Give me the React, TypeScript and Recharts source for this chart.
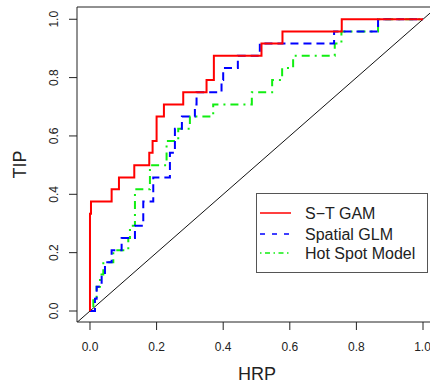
import {
  LineChart,
  Line,
  XAxis,
  YAxis,
  ReferenceLine,
  Legend,
  Label,
} from "recharts";

// axis ticks
const hrpTicks = [0, 0.2, 0.4, 0.6, 0.8, 1.0];
const tipTicks = [0, 0.2, 0.4, 0.6, 0.8, 1.0];

// S-T GAM (step curve, hrp -> tip)
const gamHrp = [0, 0, 0.003, 0.065, 0.087, 0.133, 0.178, 0.188, 0.2, 0.222, 0.28, 0.35, 0.372, 0.515, 0.578, 0.756, 1.0];
const gamTip = [0, 0.333, 0.375, 0.417, 0.458, 0.5, 0.542, 0.583, 0.667, 0.708, 0.75, 0.792, 0.875, 0.917, 0.958, 1.0, 1.0];

// Spatial GLM
const glmHrp = [0, 0.015, 0.02, 0.035, 0.045, 0.065, 0.095, 0.135, 0.16, 0.19, 0.24, 0.255, 0.276, 0.315, 0.32, 0.395, 0.4, 0.444, 0.51, 0.733, 0.865, 1.0];
const glmTip = [0, 0.042, 0.083, 0.125, 0.167, 0.208, 0.25, 0.292, 0.375, 0.458, 0.542, 0.625, 0.667, 0.708, 0.75, 0.792, 0.833, 0.875, 0.917, 0.958, 1.0, 1.0];

// Hot Spot Model
const hotHrp = [0, 0.01, 0.02, 0.03, 0.04, 0.07, 0.115, 0.12, 0.135, 0.18, 0.23, 0.265, 0.3, 0.37, 0.486, 0.547, 0.577, 0.61, 0.735, 0.755, 0.865, 1.0];
const hotTip = [0, 0.042, 0.083, 0.125, 0.167, 0.208, 0.25, 0.292, 0.417, 0.5, 0.583, 0.625, 0.667, 0.708, 0.75, 0.792, 0.833, 0.875, 0.917, 0.958, 1.0, 1.0];

const seriesNames = ["S\u2212T GAM", "Spatial GLM", "Hot Spot Model"];

const toRows = (hrp: number[], tip: number[]) =>
  hrp.map((h, i) => ({ hrp: h, tip: tip[i] }));

const gamData = toRows(gamHrp, gamTip);
const glmData = toRows(glmHrp, glmTip);
const hotData = toRows(hotHrp, hotTip);

const FONT = "'Liberation Sans', Arial, Helvetica, sans-serif";
const INK = "#222";

const X_DOMAIN = [-0.039, 1.021];
const Y_DOMAIN = [-0.0377, 1.042];

const YTick = ({ x, y, payload }: any) => (
  <text
    transform={`translate(${x - 13},${y}) rotate(-90)`}
    textAnchor="middle"
    dy="0.35em"
    fontSize={12}
    fontFamily={FONT}
    fill={INK}
  >
    {Number(payload.value).toFixed(1)}
  </text>
);

const legendRows = [
  { name: seriesNames[0], color: "#ff0000", dash: undefined },
  { name: seriesNames[1], color: "#0000ff", dash: "5 7" },
  { name: seriesNames[2], color: "#11ee11", dash: "1.5 3.5 5 3.5" },
];

const LegendBox = () => (
  <div
    style={{
      width: 172,
      height: 80,
      boxSizing: "border-box",
      border: "1px solid #555",
      background: "#fff",
    }}
  >
    <svg width={170} height={78}>
      {legendRows.map((r, i) => {
        const cy = [19, 40, 59][i];
        return (
          <g key={r.name}>
            <line x1={3} x2={34} y1={cy} y2={cy} stroke={r.color} strokeWidth={1.5} strokeDasharray={r.dash} />
            <text x={48} y={cy} dy="0.35em" fontSize={16} fontFamily={FONT} fill={INK}>
              {r.name}
            </text>
          </g>
        );
      })}
    </svg>
  </div>
);

export default function App() {
  return (
    <div style={{ position: "absolute", left: 0, top: 0, width: 430, height: 384, background: "#fff" }}>
      <LineChart width={430} height={384} margin={{ top: 7, right: 0, bottom: 0, left: 0 }}>
        <XAxis
          dataKey="hrp"
          type="number"
          domain={X_DOMAIN}
          allowDataOverflow
          ticks={hrpTicks}
          tickFormatter={(v: number) => v.toFixed(1)}
          height={62}
          tickSize={8}
          tickMargin={12}
          stroke={INK}
          tick={{ fontSize: 12, fontFamily: FONT, fill: INK }}
        >
          <Label
            content={({ viewBox }: any) => (
              <text
                x={viewBox.x + viewBox.width / 2 + 3.5}
                y={viewBox.y + 58}
                textAnchor="middle"
                fontSize={18}
                fontFamily={FONT}
                fill={INK}
              >
                HRP
              </text>
            )}
          />
        </XAxis>
        <YAxis
          dataKey="tip"
          type="number"
          domain={Y_DOMAIN}
          allowDataOverflow
          ticks={tipTicks}
          width={77}
          tickSize={8}
          stroke={INK}
          tick={<YTick />}
        >
          <Label
            content={({ viewBox }: any) => (
              <text
                transform={`translate(${viewBox.x + 20},${viewBox.y + viewBox.height / 2}) rotate(-90)`}
                textAnchor="middle"
                dy="0.35em"
                fontSize={18}
                fontFamily={FONT}
                fill={INK}
              >
                TIP
              </text>
            )}
          />
        </YAxis>

        {/* top of the plot box */}
        <ReferenceLine y={Y_DOMAIN[1]} stroke={INK} strokeWidth={1} ifOverflow="visible" />

        {/* chance line */}
        <ReferenceLine
          segment={[
            { x: -0.05, y: -0.05 },
            { x: 1.05, y: 1.05 },
          ]}
          stroke="#111"
          strokeWidth={1}
          ifOverflow="hidden"
        />

        <Line
          data={hotData}
          dataKey="tip"
          name={seriesNames[2]}
          type="stepAfter"
          stroke="#11ee11"
          strokeWidth={2}
          strokeDasharray="2 5 8 5"
          dot={false}
          isAnimationActive={false}
        />
        <Line
          data={glmData}
          dataKey="tip"
          name={seriesNames[1]}
          type="stepAfter"
          stroke="#0000ff"
          strokeWidth={2}
          strokeDasharray="8 5"
          dot={false}
          isAnimationActive={false}
        />
        <Line
          data={gamData}
          dataKey="tip"
          name={seriesNames[0]}
          type="stepAfter"
          stroke="#ff0000"
          strokeWidth={2}
          dot={false}
          isAnimationActive={false}
        />

        <Legend
          layout="vertical"
          align="center"
          verticalAlign="middle"
          wrapperStyle={{ left: 256, top: 193, width: 172 }}
          content={() => <LegendBox />}
        />
      </LineChart>
    </div>
  );
}
